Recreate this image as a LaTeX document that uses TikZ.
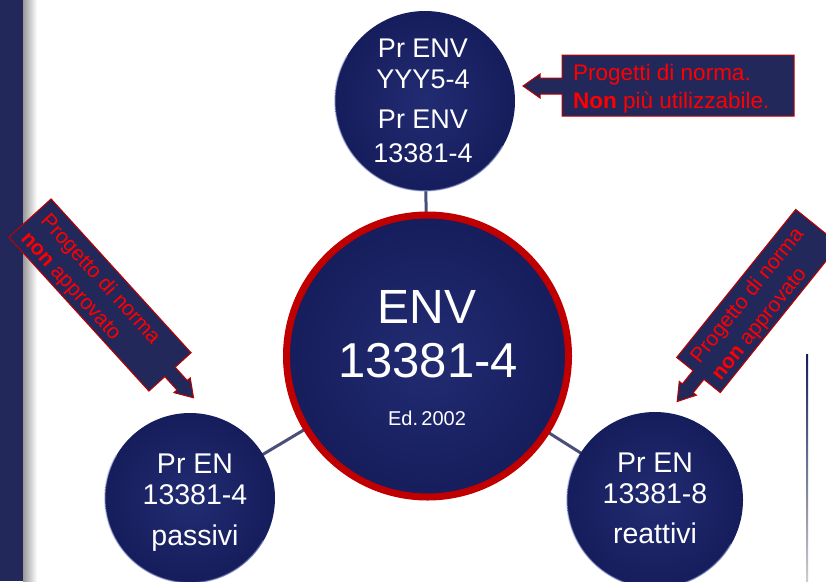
\documentclass[tikz,border=0pt]{standalone}
\usepackage{fontspec}
\setmainfont{Liberation Sans}
\usetikzlibrary{backgrounds}
\definecolor{navy}{HTML}{161D5C}
\definecolor{navylight}{HTML}{222C72}
\definecolor{boxnavy}{HTML}{22285A}
\definecolor{ringred}{HTML}{C00000}
\definecolor{txtred}{HTML}{FF0000}
\definecolor{connc}{HTML}{4A4F78}
\definecolor{rimc}{HTML}{9AA6DA}
\begin{document}
\begin{tikzpicture}[x=1pt,y=1pt,
  ball/.style={circle,inner sep=0pt,minimum size=#1,shading=radial,inner color=navylight,outer color=navy},
  conn/.style={draw=connc,line width=3pt},
  rim/.style={draw=rimc,opacity=0.55,line width=1.4pt},
  ctext/.style={text=white,inner sep=0pt,anchor=base},
  callout/.style={draw=ringred,line width=1pt,fill=boxnavy,line join=miter},
  calltext/.style={text=txtred,inner sep=0pt,anchor=west,align=left}]
\useasboundingbox (0,0) rectangle (826,-581);
\clip (0,0) rectangle (826,-581);
\begin{scope}[on background layer]
\fill[white] (0,0) rectangle (826,-581);
\end{scope}
% left bar
\fill[boxnavy] (0,0) rectangle (23,-581);
\shade[left color=black!40, right color=white] (23,0) rectangle (37,-581);
% right thin line
\shade[top color=navy, bottom color=black!20] (806,-354) rectangle (808,-581);

% circle nodes
\node[ball=180pt] (top) at (425,-101) {};
\node[ball=170pt] (bl) at (190,-498) {};
\node[ball=176pt] (br) at (655,-500) {};
\node[ball=282pt,draw=ringred,line width=7pt] (cen) at (427.5,-356) {};
\draw[rim] (top.150) arc[start angle=150,end angle=330,radius=90];
\draw[rim] (bl.150) arc[start angle=150,end angle=330,radius=85];
\draw[rim] (br.150) arc[start angle=150,end angle=330,radius=88];

% connectors behind
\begin{scope}[on background layer]
\draw[conn] (top.center) -- (cen.center);
\draw[conn] (bl.center) -- (cen.center);
\draw[conn] (br.center) -- (cen.center);
\end{scope}

% texts
\node[ctext,font=\fontsize{27}{30}\selectfont] (t1) at (423,-57) {Pr ENV};
\node[ctext,font=\fontsize{27}{30}\selectfont] (t2) at (423,-88) {YYY5-4};
\node[ctext,font=\fontsize{27}{30}\selectfont] (t3) at (423,-128) {Pr ENV};
\node[ctext,font=\fontsize{27}{30}\selectfont] (t4) at (423,-162) {13381-4};

\node[ctext,font=\fontsize{48}{52}\selectfont] (c1) at (427,-323) {ENV};
\node[ctext,font=\fontsize{49}{52}\selectfont] (c2) at (428,-377) {13381-4};
\node[ctext,font=\fontsize{20}{24}\selectfont] (c3) at (427,-425) {Ed.\,2002};

\node[ctext,font=\fontsize{28.5}{32}\selectfont] (l1) at (195,-473) {Pr EN};
\node[ctext,font=\fontsize{28.5}{32}\selectfont] (l2) at (195,-504) {13381-4};
\node[ctext,font=\fontsize{28.5}{32}\selectfont] (l3) at (195,-545) {passivi};

\node[ctext,font=\fontsize{28.5}{32}\selectfont] (r1) at (655,-472) {Pr EN};
\node[ctext,font=\fontsize{28.5}{32}\selectfont] (r2) at (655,-503) {13381-8};
\node[ctext,font=\fontsize{28.5}{32}\selectfont] (r3) at (655,-543) {reattivi};

% top callout
\draw[callout] (562,-55) -- (794,-55) -- (794,-116) -- (562,-116) -- (562,-94)
  -- (540,-94) -- (540,-98) -- (523,-86) -- (540,-74) -- (540,-78) -- (562,-78) -- cycle;
\node[calltext,font=\fontsize{22.5}{28}\selectfont] (tc) at (573,-89)
  {Progetti di norma.\\\textbf{Non} più utilizzabile.};

% left callout
\begin{scope}[shift={(100,-295)},rotate=-47.7]
\draw[callout] (-104,28.5) -- (104,28.5) -- (104,7) -- (122,7) -- (122,11) -- (139,0)
  -- (122,-11) -- (122,-7) -- (104,-7) -- (104,-28.5) -- (-104,-28.5) -- cycle;
\node[calltext,transform shape,font=\fontsize{21}{26.5}\selectfont] (lc) at (-95,-3)
  {Progetto di norma\\\textbf{non} approvato};
\end{scope}

% right callout
\begin{scope}[shift={(758,-301)},rotate=51.2]
\draw[callout] (95,28) -- (-95,28) -- (-95,7) -- (-112,7) -- (-112,11) -- (-129,0)
  -- (-112,-11) -- (-112,-7) -- (-95,-7) -- (-95,-28) -- (95,-28) -- cycle;
\node[calltext,transform shape,font=\fontsize{21}{27}\selectfont] (rc) at (-86,-2.5)
  {Progetto di norma\\\textbf{non} approvato};
\end{scope}
\end{tikzpicture}
\end{document}
